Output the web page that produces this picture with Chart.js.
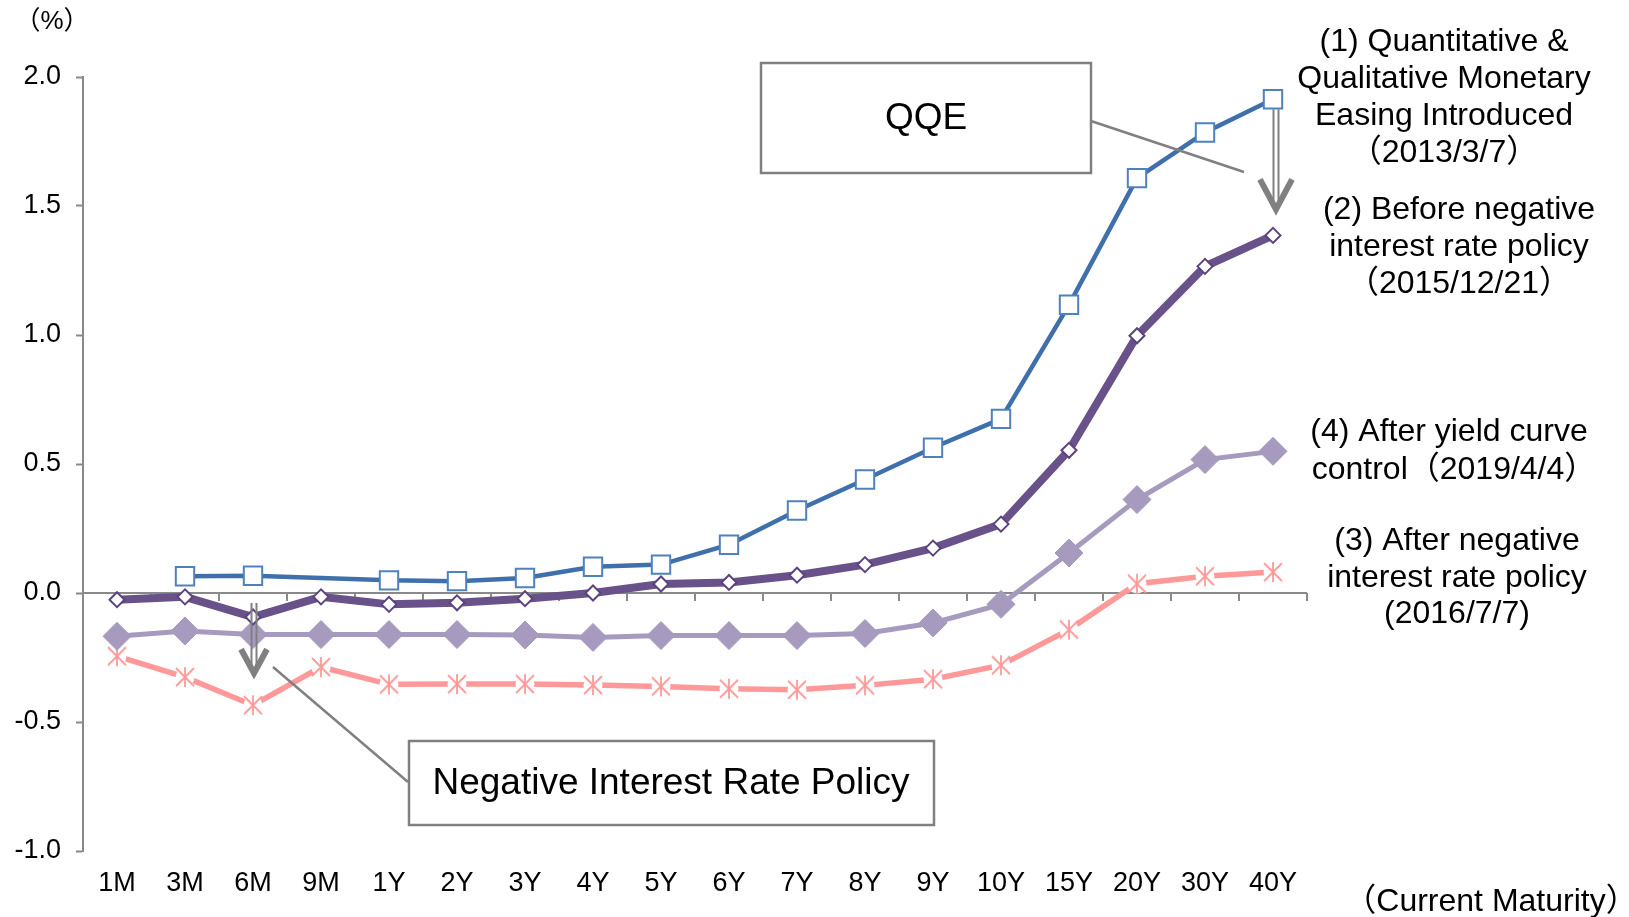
<!DOCTYPE html>
<html>
<head>
<meta charset="utf-8">
<script src="https://cdn.jsdelivr.net/npm/chart.js@4.4.1/dist/chart.umd.min.js"></script>
<style>
  html, body { margin: 0; padding: 0; background: #fff; overflow: hidden; }
  #wrap { width: 1629px; height: 917px; }
</style>
</head>
<body>
<div id="wrap"><canvas id="yieldChart" width="1629" height="917"></canvas></div>
<script>
// JGB yield curves (%), by current maturity
const maturities = ['1M', '3M', '6M', '9M', '1Y', '2Y', '3Y', '4Y', '5Y', '6Y', '7Y', '8Y', '9Y', '10Y', '15Y', '20Y', '30Y', '40Y'];
const yTicks = [-1.0, -0.5, 0.0, 0.5, 1.0, 1.5, 2.0];

const qqe2013 = [null, 0.065, 0.067, null, 0.049, 0.046, 0.058, 0.102, 0.110, 0.187, 0.320, 0.440, 0.563, 0.675, 1.117, 1.608, 1.785, 1.914];
const beforeNirp2015 = [-0.026, -0.015, -0.093, -0.015, -0.044, -0.038, -0.022, 0.000, 0.035, 0.041, 0.069, 0.110, 0.174, 0.267, 0.553, 0.997, 1.266, 1.386];
const afterNirp2016 = [-0.245, -0.326, -0.435, -0.287, -0.354, -0.353, -0.353, -0.357, -0.362, -0.371, -0.375, -0.358, -0.334, -0.280, -0.142, 0.036, 0.065, 0.081];
const afterYcc2019 = [-0.168, -0.147, -0.161, -0.161, -0.161, -0.161, -0.163, -0.172, -0.165, -0.165, -0.165, -0.157, -0.116, -0.044, 0.155, 0.362, 0.517, 0.549];

const FONT = "'Liberation Sans', Arial, 'Noto Sans CJK JP', sans-serif";
const GREY = '#898989';

// excel style asterisk marker (x + vertical bar) on a white dot
function makeStar() {
  const c = document.createElement('canvas');
  c.width = 28; c.height = 28;
  const g = c.getContext('2d');
  g.fillStyle = '#fff';
  g.beginPath(); g.arc(14, 14, 9.5, 0, Math.PI * 2); g.fill();
  g.strokeStyle = '#FF9999';
  g.lineWidth = 1.8;
  g.beginPath();
  g.moveTo(14, 4); g.lineTo(14, 24);
  g.moveTo(5, 5); g.lineTo(23, 23);
  g.moveTo(23, 5); g.lineTo(5, 23);
  g.stroke();
  return c;
}

// horizontal axis sits on the 0% line, labels stay at the bottom
const zeroAxis = {
  id: 'zeroAxis',
  beforeDatasetsDraw(chart) {
    const { ctx, chartArea } = chart;
    const xs = chart.scales.x, ys = chart.scales.y;
    const y0 = ys.getPixelForValue(0);
    ctx.save();
    ctx.strokeStyle = GREY;
    ctx.lineWidth = 2;
    ctx.beginPath();
    ctx.moveTo(chartArea.left, y0);
    ctx.lineTo(chartArea.right, y0);
    for (let i = 0; i <= maturities.length; i++) {
      const x = Math.round(xs.getPixelForValue(i - 0.5));
      ctx.moveTo(x, y0);
      ctx.lineTo(x, y0 + 8);
    }
    ctx.stroke();
    ctx.restore();
  }
};

function arrowDown(ctx, x, top, tip, headH, headW) {
  ctx.strokeStyle = '#808080';
  ctx.lineWidth = 2;
  ctx.beginPath();
  ctx.moveTo(x - 2.5, top); ctx.lineTo(x - 2.5, tip - 6);
  ctx.moveTo(x + 2.5, top); ctx.lineTo(x + 2.5, tip - 6);
  ctx.stroke();
  ctx.lineWidth = 6;
  ctx.lineJoin = 'miter';
  ctx.beginPath();
  ctx.moveTo(x - headW, tip - headH);
  ctx.lineTo(x, tip);
  ctx.lineTo(x + headW, tip - headH);
  ctx.stroke();
}

const notes = {
  id: 'notes',
  afterDraw(chart) {
    const ctx = chart.ctx;
    const xs = chart.scales.x, ys = chart.scales.y;
    ctx.save();
    ctx.fillStyle = '#000';
    ctx.textAlign = 'center';
    ctx.textBaseline = 'middle';

    ctx.font = '26px ' + FONT;
    ctx.fillText('（%）', 52, 22);
    ctx.font = '32px ' + FONT;
    ctx.fillText('（Current Maturity）', 1491, 902);

    const blocks = [
      [1444, [42, 79, 116, 153], ['(1) Quantitative &', 'Qualitative Monetary', 'Easing Introduced', '（2013/3/7）']],
      [1459, [210, 247, 284], ['(2) Before negative', 'interest rate policy', '（2015/12/21）']],
      [1449, [432, 470], ['(4) After yield curve', 'control（2019/4/4）']],
      [1457, [541, 578, 614], ['(3) After negative', 'interest rate policy', '(2016/7/7)']]
    ];
    blocks.forEach(([x, ys2, lines]) => lines.forEach((t, i) => {
      ctx.fillText(t, t.startsWith('control') ? x + 5 : x, ys2[i]);
    }));

    // callout boxes
    ctx.strokeStyle = '#808080';
    ctx.lineWidth = 2.5;
    ctx.fillStyle = '#fff';
    ctx.fillRect(761, 63, 330, 110);
    ctx.strokeRect(761, 63, 330, 110);
    ctx.fillRect(409, 741, 525, 84);
    ctx.strokeRect(409, 741, 525, 84);
    ctx.fillStyle = '#000';
    ctx.font = '37px ' + FONT;
    ctx.fillText('QQE', 926, 119);
    ctx.fillText('Negative Interest Rate Policy', 671, 784);

    ctx.lineWidth = 2.5;
    ctx.beginPath();
    ctx.moveTo(1091, 121); ctx.lineTo(1244, 172);
    ctx.moveTo(273, 667); ctx.lineTo(408, 782);
    ctx.stroke();

    // shift arrows between curves
    const x40 = xs.getPixelForValue(17) + 3;
    arrowDown(ctx, x40, ys.getPixelForValue(qqe2013[17]) + 10, ys.getPixelForValue(beforeNirp2015[17]) - 26, 30, 16);
    const x6m = xs.getPixelForValue(2) + 1;
    arrowDown(ctx, x6m, ys.getPixelForValue(0) + 10, ys.getPixelForValue(afterNirp2016[2]) - 32, 24, 13);
    ctx.restore();
  }
};

const tickFont = { family: FONT, size: 27 };

new Chart(document.getElementById('yieldChart'), {
  type: 'line',
  data: {
    labels: maturities,
    datasets: [
      {
        label: '(1) 2013/3/7',
        data: qqe2013,
        borderColor: '#3F70AB',
        borderWidth: 4.5,
        pointStyle: 'rect',
        pointRadius: 13,
        pointBackgroundColor: '#fff',
        pointBorderColor: '#4F81BD',
        pointBorderWidth: 2,
        spanGaps: true,
        tension: 0
      },
      {
        label: '(2) 2015/12/21',
        data: beforeNirp2015,
        borderColor: '#69518A',
        borderWidth: 8,
        pointStyle: 'rectRot',
        pointRadius: 7.5,
        pointBackgroundColor: '#fff',
        pointBorderColor: '#5B4380',
        pointBorderWidth: 2,
        tension: 0
      },
      {
        label: '(4) 2019/4/4',
        data: afterYcc2019,
        borderColor: '#A69ABF',
        backgroundColor: '#A69ABF',
        borderWidth: 5,
        pointStyle: 'rectRot',
        pointRadius: 14,
        pointBackgroundColor: '#A69ABF',
        pointBorderColor: '#A69ABF',
        pointBorderWidth: 1,
        tension: 0
      },
      {
        label: '(3) 2016/7/7',
        data: afterNirp2016,
        borderColor: '#FF9999',
        borderWidth: 5.5,
        pointStyle: makeStar(),
        tension: 0
      }
    ]
  },
  options: {
    responsive: false,
    animation: false,
    devicePixelRatio: 1,
    layout: { padding: { top: 77, right: 322, left: 0, bottom: 0 } },
    plugins: { legend: { display: false }, tooltip: { enabled: false } },
    scales: {
      x: {
        offset: true,
        grid: { display: false },
        border: { display: false },
        ticks: { font: tickFont, color: '#000', padding: 8, maxRotation: 0, autoSkip: false },
        afterFit: s => { s.height = 66; }
      },
      y: {
        min: -1, max: 2,
        afterBuildTicks: s => { s.ticks = yTicks.map(v => ({ value: v })); },
        ticks: { font: tickFont, color: '#000', padding: 15, callback: v => v.toFixed(1) },
        grid: { drawOnChartArea: false, drawTicks: true, tickLength: 7, tickColor: GREY, tickWidth: 2 },
        border: { display: true, color: GREY, width: 2 },
        afterFit: s => { s.width = 83; }
      }
    }
  },
  plugins: [zeroAxis, notes]
});
</script>
</body>
</html>
